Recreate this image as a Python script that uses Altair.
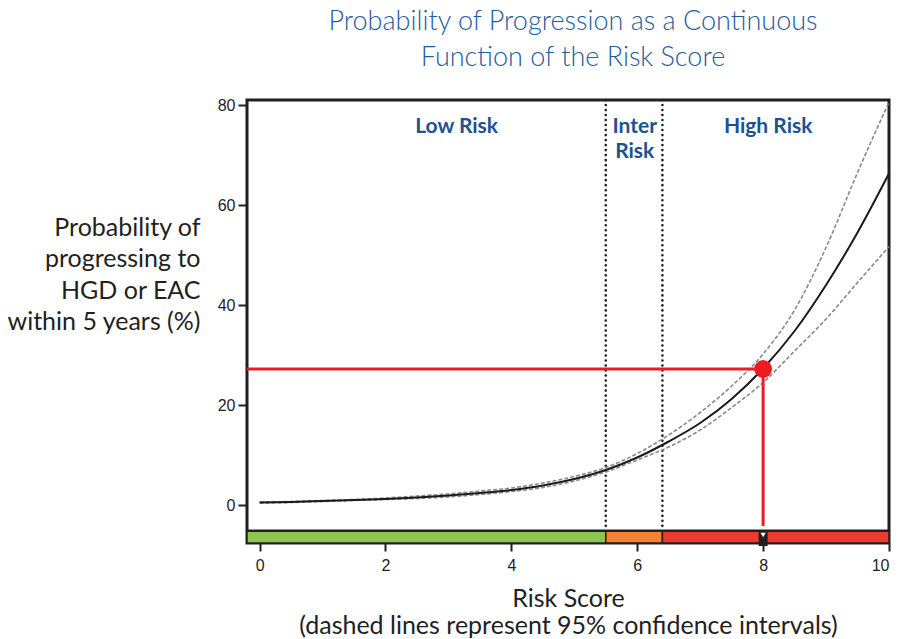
import altair as alt
import pandas as pd

# ---- data ----
score = [0, 0.5, 1, 1.5, 2, 2.5, 3, 3.5, 4, 4.5, 5, 5.5, 6, 6.5, 7, 7.5, 8, 8.5, 9, 9.5, 10]
prob = [0.5, 0.6, 0.8, 1.0, 1.2, 1.5, 1.9, 2.4, 3.0, 3.9, 5.2, 7.0, 9.5, 12.7, 16.4, 21.2, 27.3, 34.8, 44.0, 54.5, 66.3]
upper = [0.6, 0.7, 0.9, 1.1, 1.4, 1.8, 2.2, 2.8, 3.4, 4.4, 5.7, 7.5, 10.3, 14.0, 18.5, 23.8, 30.2, 39.0, 51.5, 66.5, 80.6]
lower = [0.4, 0.5, 0.7, 0.9, 1.1, 1.3, 1.6, 2.1, 2.7, 3.5, 4.8, 6.6, 9.0, 11.6, 15.0, 19.5, 24.5, 30.8, 37.2, 44.5, 51.7]

region_names = ["Low Risk", "Inter\nRisk", "High Risk"]
region_start = [-0.2, 5.5, 6.4]
region_end = [5.5, 6.4, 10]
region_colors = ["#8DC550", "#F58233", "#EE3A33"]
region_label_x = [3.13, 5.96, 8.08]
cutoffs = [5.5, 6.4]

patient_score = [8]
patient_prob = [27.2]

x_ticks = [0, 2, 4, 6, 8, 10]
y_ticks = [0, 20, 40, 60, 80]

# ---- tables ----
curve = pd.DataFrame({"score": score, "prob": prob, "upper": upper, "lower": lower})
regions = pd.DataFrame({"name": region_names, "start": region_start, "end": region_end,
                        "color": region_colors, "lx": region_label_x})
cuts = pd.DataFrame({"cut": cutoffs})
patient = pd.DataFrame({"score": patient_score, "prob": patient_prob})

INK = "#231f20"
X_MIN, X_MAX, Y_MIN, Y_MAX = -0.2, 10, -7.6, 81
BAR_TOP = -5.14
xs = alt.Scale(domain=[X_MIN, X_MAX], nice=False, zero=False, padding=0)
ys = alt.Scale(domain=[Y_MIN, Y_MAX], nice=False, zero=False, padding=0)


def YD(v):
    return alt.YDatum(datum=v, type="quantitative")


def Y2D(v):
    return alt.Y2Datum(datum=v)


def X2D(v):
    return alt.X2Datum(datum=v)


xaxis = alt.Axis(values=x_ticks, format="d", labelFontSize=16,
                 title=["Risk Score", "(dashed lines represent 95% confidence intervals)"])
yaxis = alt.Axis(values=y_ticks, format="d", labelFontSize=16,
                 title=["Probability of", "progressing to", "HGD or EAC", "within 5 years (%)"])

bar = alt.Chart(regions).mark_rect(stroke=INK, strokeWidth=1.5).encode(
    x=alt.X("start:Q", scale=xs, axis=xaxis),
    x2="end:Q",
    y=YD(BAR_TOP),
    y2=Y2D(Y_MIN),
    color=alt.Color("color:N", scale=None),
)
bar_top = alt.Chart(regions).mark_rule(color=INK, strokeWidth=2.5).encode(
    x=alt.X("start:Q", scale=xs, axis=xaxis), x2="end:Q", y=YD(BAR_TOP)
)

cut_lines = alt.Chart(cuts).mark_rule(color=INK, strokeWidth=2.6, strokeDash=[0.01, 5], strokeCap="round").encode(
    x=alt.X("cut:Q", scale=xs, axis=xaxis),
    y=YD(Y_MAX),
    y2=Y2D(BAR_TOP),
)

ci_up = alt.Chart(curve).mark_line(color="#8a8a8a", strokeWidth=1.6, strokeDash=[4, 2], interpolate="monotone").encode(
    x=alt.X("score:Q", scale=xs, axis=xaxis), y=alt.Y("upper:Q", scale=ys, axis=yaxis)
)
ci_lo = alt.Chart(curve).mark_line(color="#8a8a8a", strokeWidth=1.6, strokeDash=[4, 2], interpolate="monotone").encode(
    x=alt.X("score:Q", scale=xs, axis=xaxis), y=alt.Y("lower:Q", scale=ys, axis=yaxis)
)
main = alt.Chart(curve).mark_line(color="#1a1a1a", strokeWidth=2, interpolate="monotone").encode(
    x=alt.X("score:Q", scale=xs, axis=xaxis), y=alt.Y("prob:Q", scale=ys, axis=yaxis)
)

red_h = alt.Chart(patient).mark_rule(color="#ED1C24", strokeWidth=3).encode(
    x=alt.X("score:Q", scale=xs, axis=xaxis), x2=X2D(X_MIN), y=alt.Y("prob:Q", scale=ys, axis=yaxis)
)
red_v = alt.Chart(patient).mark_rule(color="#ED1C24", strokeWidth=3).encode(
    x=alt.X("score:Q", scale=xs, axis=xaxis), y=alt.Y("prob:Q", scale=ys, axis=yaxis), y2=Y2D(-4.2)
)
red_dot = alt.Chart(patient).mark_circle(color="#ED1C24", opacity=1, size=320).encode(
    x=alt.X("score:Q", scale=xs, axis=xaxis), y=alt.Y("prob:Q", scale=ys, axis=yaxis)
)
marker = alt.Chart(patient).mark_bar(color=INK, width=9).encode(
    x=alt.X("score:Q", scale=xs, axis=xaxis), y=YD(-5.2), y2=Y2D(-8.2)
)
marker_tri = alt.Chart(patient).mark_point(shape="triangle-down", filled=True, color="white", opacity=1, size=28).encode(
    x=alt.X("score:Q", scale=xs, axis=xaxis), y=YD(-6.0)
)

labels = alt.Chart(regions).mark_text(font="Lato", fontWeight="bold", fontSize=21, color="#1D5290",
                                      baseline="top", lineBreak="\n", lineHeight=25).encode(
    x=alt.X("lx:Q", scale=xs, axis=xaxis), y=YD(77.8), text="name:N"
)

chart = alt.layer(
    bar, bar_top, cut_lines, ci_up, ci_lo, main, red_h, red_v, red_dot, marker, marker_tri, labels
).properties(
    width=642, height=443,
    autosize=alt.AutoSizeParams(type="none"),
    padding={"left": 239, "top": 92, "right": 4, "bottom": 96},
    title=alt.TitleParams(
        text=["Probability of Progression as a Continuous", "Function of the Risk Score"],
        font="Lato", fontSize=27, fontWeight=300, color="#1F5C9C", lineHeight=36,
        anchor="middle", dx=5, offset=25,
    ),
).configure_view(
    stroke=INK, strokeWidth=3
).configure_axis(
    domain=False, grid=False, tickColor=INK, tickWidth=2,
    labelFont="Liberation Sans", labelFontSize=16, labelColor=INK,
    titleFont="Lato", titleFontWeight="normal", titleColor=INK,
).configure_axisX(
    tickSize=8, labelPadding=6, titleFontSize=25, titleLineHeight=27,
    titleBaseline="alphabetic", titleY=63,
).configure_axisY(
    tickSize=9, labelPadding=3, titleFontSize=25, titleLineHeight=31.5,
    titleAngle=0, titleAlign="right", titleBaseline="alphabetic", titleX=-47, titleY=135,
)

chart.save("out.html", embed_options={"renderer": "svg", "actions": False})
